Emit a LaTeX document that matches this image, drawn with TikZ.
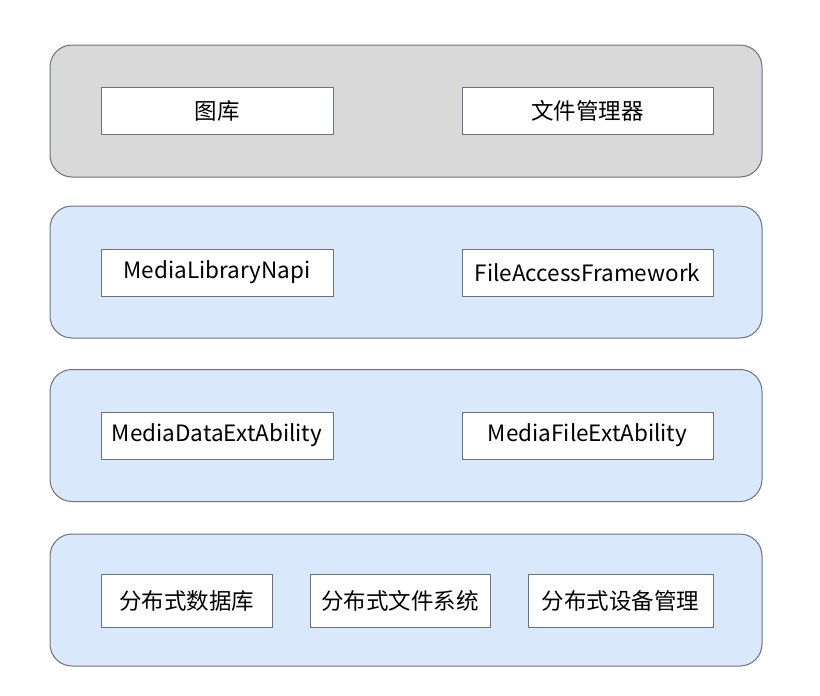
\documentclass[tikz,border=0pt]{standalone}
\usepackage{fontspec}
\setmainfont{Noto Sans CJK SC}
\usetikzlibrary{positioning}
\definecolor{graylayer}{HTML}{D9D9D9}
\definecolor{bluelayer}{HTML}{DAE8FC}
\definecolor{edgegray}{HTML}{6C7080}
\tikzset{
	layer/.style={draw=edgegray,line width=1pt,rounded corners=22pt,minimum width=712pt,minimum height=132pt,inner sep=0pt},
	graybox/.style={layer,fill=graylayer},
	bluebox/.style={layer,fill=bluelayer},
	modbox/.style={draw=edgegray,line width=1pt,fill=white,minimum height=47pt,inner sep=0pt,font=\fontsize{22.5}{26}\selectfont}
}
\begin{document}
\begin{tikzpicture}[x=1pt,y=-1pt]
		\useasboundingbox (0,0) rectangle (820,696);
		% layers
		\node[graybox](apps) at (406,111){};
		\node[bluebox](napi) at (406,272){};
		\node[bluebox](ext) at (406,435.5){};
		\node[bluebox](dist) at (406,600){};
		% application layer
		\node[modbox,minimum width=232pt](gallery) at (217,111){图库};
		\node[modbox,minimum width=251pt](filemgr) at (587.5,111){文件管理器};
		% interface layer
		\node[modbox,minimum width=232pt](medialib) at (217,272.5){MediaLibraryNapi};
		\node[modbox,minimum width=251pt](fileaccess) at (587.5,272.5){FileAccessFramework};
		% extension layer
		\node[modbox,minimum width=232pt](mediadata) at (217,435.5){MediaDataExtAbility};
		\node[modbox,minimum width=251pt](mediafile) at (587.5,435.5){MediaFileExtAbility};
		% distributed layer
		\node[modbox,minimum width=171pt,minimum height=53pt](distdata) at (186.5,600.5){分布式数据库};
		\node[modbox,minimum width=180pt,minimum height=53pt](distfile) at (400,600.5){分布式文件系统};
		\node[modbox,minimum width=185pt,minimum height=53pt](distdev) at (620.5,600.5){分布式设备管理};
	\end{tikzpicture}
\end{document}
